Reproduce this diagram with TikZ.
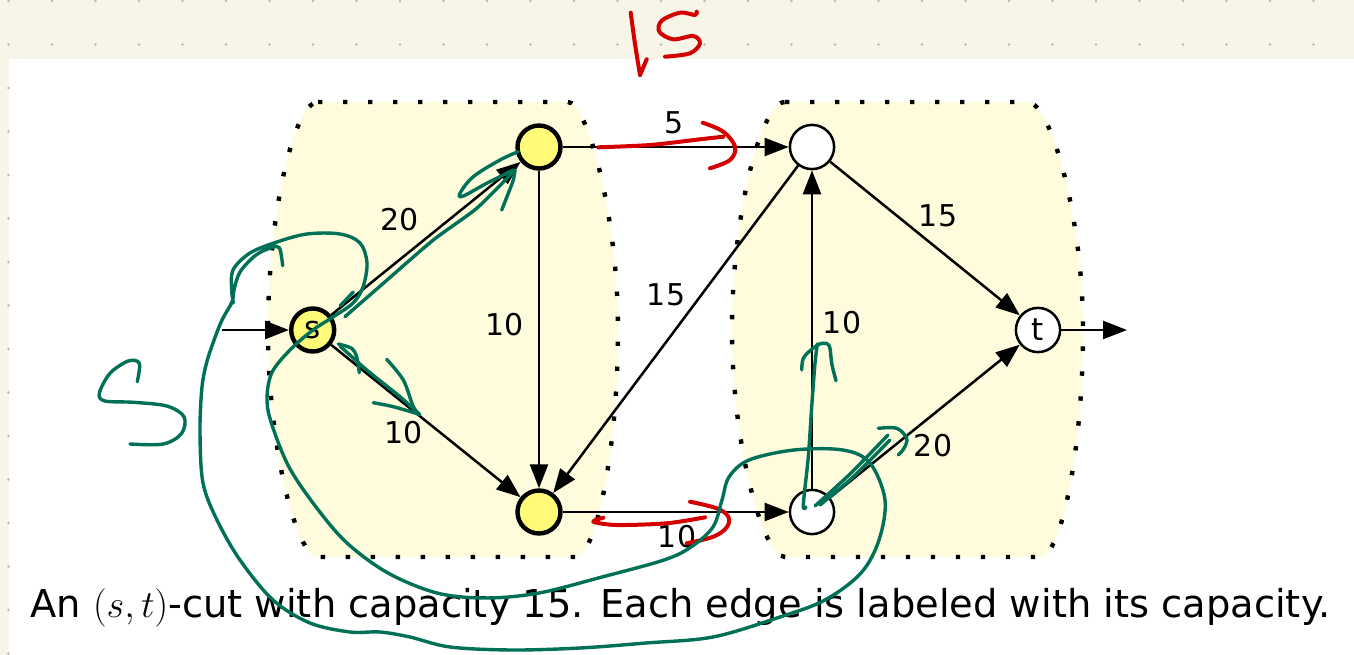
\RequirePackage{fix-cm}
\documentclass[tikz,border=0pt]{standalone}
\usepackage{fontspec}
\setmainfont{DejaVu Sans}
\usetikzlibrary{arrows.meta}
\definecolor{bg}{RGB}{247,245,232}
\definecolor{griddot}{RGB}{185,185,178}
\definecolor{regfill}{RGB}{254,252,221}
\definecolor{nodeyellow}{RGB}{255,251,120}
\definecolor{inkgreen}{RGB}{0,112,86}
\definecolor{inkred}{RGB}{212,0,0}
\tikzset{
  yel/.style={circle, draw=black, line width=4.4pt, fill=nodeyellow, minimum size=43pt, inner sep=0pt, font=\fontsize{31}{31}\selectfont},
  wht/.style={circle, draw=black, line width=2.5pt, fill=white, minimum size=44.2pt, inner sep=0pt, font=\fontsize{31}{31}\selectfont},
  edge/.style={draw=black, line width=2.5pt, -{Triangle[length=24pt,width=18pt]}},
  lab/.style={font=\fontsize{30}{30}\selectfont, inner sep=0pt},
  region/.style={fill=regfill, draw=black, line width=4.4pt, dash pattern=on 4.4pt off 20.6pt},
  greenink/.style={draw=inkgreen, line width=3.4pt, line cap=round, line join=round},
  redink/.style={draw=inkred, line width=4pt, line cap=round, line join=round},
  gdot/.style={fill=griddot}
}
\begin{document}
\begin{tikzpicture}[x=1pt,y=-1pt]
\fill[bg] (0,0) rectangle (1354,655);
\useasboundingbox (0,0) rectangle (1354,655);
\foreach \i in {0,...,31}{
  \foreach \j in {0,1}{
    \fill[gdot] ({8.5+43.5*\i},{1+43.5*\j}) circle (1.4pt);
  }
}
\fill[white] (9,59) rectangle (1354,655);
\foreach \j in {2,...,15}{
  \fill[gdot] (8.5,{1+43.5*\j}) circle (1.4pt);
}
% regions
\path[region] (318,102) -- (568,102) .. controls (587,102) and (618,215) .. (618,330)
  .. controls (618,445) and (597,557) .. (575,557) -- (318,557)
  .. controls (296,557) and (268,445) .. (268,330)
  .. controls (268,215) and (294,102) .. (318,102) -- cycle;
\path[region] (785,102) -- (1028,102) .. controls (1050,102) and (1083,215) .. (1083,330)
  .. controls (1083,445) and (1062,557) .. (1040,557) -- (785,557)
  .. controls (763,557) and (732,445) .. (732,330)
  .. controls (732,215) and (761,102) .. (785,102) -- cycle;
% nodes
\node[yel] (s) at (312.7,330) {s};
\node[yel] (a) at (539,147) {};
\node[yel] (b) at (539,512) {};
\node[wht] (c) at (812,147) {};
\node[wht] (d) at (812,512) {};
\node[wht] (t) at (1038,330) {t};
\coordinate (in) at (222,330);
\coordinate (out) at (1127,330);
% edges
\draw[edge] (in) -- (s);
\draw[edge] (s) -- (a);
\draw[edge] (s) -- (b);
\draw[edge] (a) -- (b);
\draw[edge] (a) -- (c);
\draw[edge] (c) -- (b);
\draw[edge] (d) -- (c);
\draw[edge] (c) -- (t);
\draw[edge] (d) -- (t);
\draw[edge] (b) -- (d);
\draw[edge] (t) -- (out);
% labels
\node[lab] (l1) at (400,220) {20};
\node[lab] (l2) at (404,433) {10};
\node[lab] (l3) at (505,325) {10};
\node[lab] (l4) at (674,123) {5};
\node[lab] (l5) at (666,295) {15};
\node[lab] (l6) at (842,323) {10};
\node[lab] (l7) at (938,216) {15};
\node[lab] (l8) at (933,446) {20};
\node[lab] (l9) at (677,537) {10};
% caption
\node[anchor=base west, inner sep=0pt, font=\fontsize{38.4}{38.4}\selectfont] (cap) at (30,617)
  {An $(s,t)$-cut with capacity 15. Each edge is labeled with its capacity.};
% red ink
\draw[redink] plot[smooth, tension=0.5] coordinates {(630.7,12.7) (635,44) (640,75)};
\draw[redink] (640,75) -- (646.7,59.3);
\draw[redink] plot[smooth, tension=0.55] coordinates {(696.7,11.7) (695,15) (680,12.7) (661.7,20.7) (659.3,31.7) (673.3,39.3) (693.3,36) (700,43.3) (690,53.3) (665,56.7)};
\draw[redink] plot[smooth, tension=0.5] coordinates {(598.3,147.3) (650,145) (700,139.3) (723.3,136.7)};
\draw[redink] plot[smooth, tension=0.6] coordinates {(702.7,122.7) (723.3,131.7) (735,146.7) (730,160) (710,168.3)};
\draw[redink] plot[smooth, tension=0.5] coordinates {(603.3,517.7) (593.3,521.7) (616.7,525) (666.7,523.3) (705,517.3)};
\draw[redink] plot[smooth, tension=0.6] coordinates {(690,501.7) (716.7,508.3) (728.3,516.7) (726.7,527.3) (713.3,536.7) (686.7,543.3)};
% green ink
\draw[greenink] plot[smooth, tension=0.55] coordinates {(137.3,381.7) (139.3,363.3) (128.3,361) (110,373.3) (99.3,393.3) (105,401) (133.3,402.3) (166.7,406) (184,416.7) (181.7,433.3) (163.3,444) (130,444)};
\draw[greenink] plot[smooth, tension=0.55] coordinates {(282.7,265.7) (279.5,248) (272,247.5) (256,255) (240,272) (234,290) (232,302) (222,320) (213,343) (206,365) (201.7,390) (200,433) (203,483) (217,520) (240,560) (273,600) (310,623) (350,632) (380,632) (410,637) (450,647) (512,650) (580,648) (646,643) (713,637) (780,617) (825,600) (861,573) (879,540) (885,500) (870,463) (843,450) (794,450) (749,460) (729,477) (722,500) (713,527) (691,547) (664,560) (602,577) (539,593) (486,598) (437,593) (388,573) (347,543) (316,507) (289,467) (272,425) (267,400) (271.7,373) (290,350) (313,330) (333,317) (353,303) (363,287) (367,263) (360,243) (340,234) (307,234) (277,242) (250,253) (233,270) (231.7,290) (233.3,303)};
% s->a arrow
\draw[greenink] plot[smooth, tension=0.4] coordinates {(345,316.7) (383.3,283.3) (433.3,240) (476.7,208.3) (513.3,171.7)};
\draw[greenink] (340,306) -- (353.3,292);
\draw[greenink] plot[smooth, tension=0.6] coordinates {(518.3,151.7) (500,160) (473.3,176.7) (460,193.3) (463.3,196) (486.7,183.3) (513.3,170)};
\draw[greenink] plot[smooth, tension=0.5] coordinates {(515,170) (513.3,180) (508.3,193.3) (501.7,210)};
% s->b arrow
\draw[greenink] plot[smooth, tension=0.5] coordinates {(338.3,344) (351.7,348.3) (356.7,356.7) (359.3,372.7)};
\draw[greenink] plot[smooth, tension=0.4] coordinates {(340,346) (366.7,370) (400,396.7) (420,415)};
\draw[greenink] plot[smooth, tension=0.5] coordinates {(386.7,359.3) (403.3,380) (413.3,406.7) (419,414)};
\draw[greenink] plot[smooth, tension=0.5] coordinates {(373.3,402.7) (393.3,406.7) (418.3,414)};
% d->c arrow
\draw[greenink] plot[smooth, tension=0.5] coordinates {(806,507) (803.3,505) (808.3,456.7) (811.7,406.7) (815,363.3) (817.3,344)};
\draw[greenink] plot[smooth, tension=0.55] coordinates {(801.7,370) (803.3,358.3) (811.7,349.3) (821.7,343.3) (829.3,346) (831.7,363.3) (836,380.7)};
% d->t arrow
\draw[greenink] plot[smooth, tension=0.4] coordinates {(815,506) (850,474) (888,435)};
\draw[greenink] plot[smooth, tension=0.4] coordinates {(820,505) (852,478) (890,440)};
\draw[greenink] plot[smooth, tension=0.55] coordinates {(878.3,428.3) (896.7,428.3) (906.7,438.3) (904,448.3) (898.3,455)};
\end{tikzpicture}
\end{document}
